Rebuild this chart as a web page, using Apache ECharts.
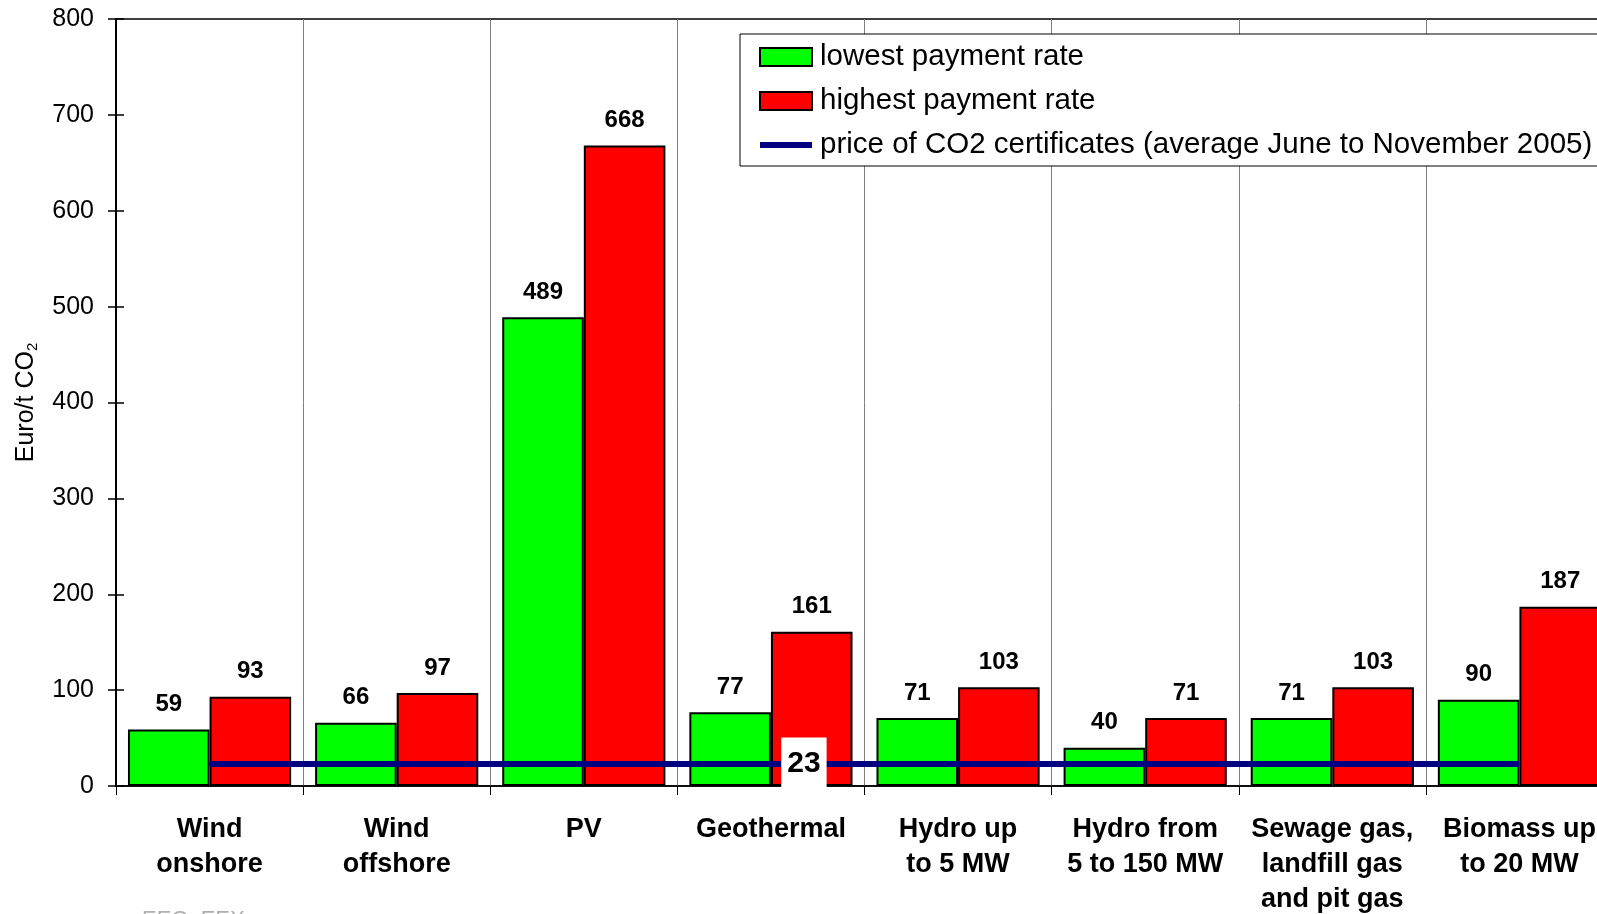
<!DOCTYPE html>
<html>
<head>
<meta charset="utf-8">
<script src="https://cdn.jsdelivr.net/npm/echarts@6/dist/echarts.min.js"></script>
<style>
  html, body { margin: 0; padding: 0; background: #fff; }
  #chart { width: 1597px; height: 914px; }
</style>
</head>
<body>
<div id="chart"></div>
<script>
// categories and values
const categories = [
  'Wind\nonshore', 'Wind\noffshore', 'PV', 'Geothermal',
  'Hydro up\nto 5 MW', 'Hydro from\n5 to 150 MW',
  'Sewage gas,\nlandfill gas\nand pit gas', 'Biomass up\nto 20 MW'
];
const lowestRate = [59, 66, 489, 77, 71, 40, 71, 90];
const highestRate = [93, 97, 668, 161, 103, 71, 103, 187];
const co2Price = [23, 23, 23, 23, 23, 23, 23, 23];
const co2LabelIndex = 3; // the "23" box sits on Geothermal
const yTicks = { min: 0, max: 800, interval: 100 };

const FONT = 'Liberation Sans, Arial, sans-serif';

const chart = echarts.init(document.getElementById('chart'));

const barLabel = {
  show: true,
  position: 'top',
  distance: 13,
  color: '#000',
  fontFamily: FONT,
  fontWeight: 'bold',
  fontSize: 24
};

const option = {
  animation: false,
  backgroundColor: '#fff',
  textStyle: { fontFamily: FONT },
  title: {
    text: 'EEG, EEX',
    left: 137,
    top: 904,
    textStyle: { color: '#b0b0b0', fontSize: 22, fontWeight: 'normal', fontFamily: FONT }
  },
  grid: {
    left: 116,
    top: 19,
    bottom: 128,
    right: -16,
    show: true,
    borderColor: '#000',
    borderWidth: 1.5,
    containLabel: false,
    outerBoundsMode: 'none'
  },
  legend: {
    orient: 'vertical',
    left: 740,
    top: 34,
    padding: [8, 30, 6, 19],
    itemWidth: 52,
    itemHeight: 18,
    itemGap: 14,
    backgroundColor: '#fff',
    borderColor: '#000',
    borderWidth: 1,
    borderRadius: 0,
    textStyle: { color: '#000', fontSize: 29.5, fontFamily: FONT, padding: [0, 0, 0, 3] },
    data: [
      { name: 'lowest payment rate', icon: 'rect' },
      { name: 'highest payment rate', icon: 'rect' },
      { name: 'price of CO2 certificates (average June to November 2005)', icon: 'path://M0,0H52V6H0Z' }
    ]
  },
  xAxis: {
    type: 'category',
    data: categories,
    boundaryGap: true,
    axisLine: { show: true, lineStyle: { color: '#000', width: 1.5 } },
    axisTick: { show: true, length: 9, interval: 0, lineStyle: { color: '#000', width: 1 } },
    splitLine: { show: true, interval: 0, lineStyle: { color: '#808080', width: 1 } },
    axisLabel: {
      interval: 0,
      margin: 26,
      color: '#000',
      fontFamily: FONT,
      fontWeight: 'bold',
      fontSize: 27,
      lineHeight: 35,
      align: 'center'
    }
  },
  yAxis: [
    {
      type: 'value',
      min: yTicks.min,
      max: yTicks.max,
      interval: yTicks.interval,
      name: '{a|Euro/t CO}{b|2}',
      nameLocation: 'middle',
      nameGap: 76,
      nameRotate: 90,
      nameTextStyle: {
        rich: {
          a: { fontSize: 25, fontFamily: FONT, color: '#000', lineHeight: 28 },
          b: { fontSize: 15, fontFamily: FONT, color: '#000', verticalAlign: 'bottom', lineHeight: 21 }
        }
      },
      axisLine: { show: true, lineStyle: { color: '#000', width: 2 } },
      axisTick: { show: true, length: 8, lineStyle: { color: '#000', width: 1.5 } },
      splitLine: { show: false },
      axisLabel: { margin: 22, color: '#000', fontSize: 25, fontFamily: FONT }
    },
    {
      // second axis only to draw the inner half of the cross ticks
      type: 'value',
      position: 'left',
      min: yTicks.min,
      max: yTicks.max,
      interval: yTicks.interval,
      axisLine: { show: false },
      axisTick: { show: true, inside: true, length: 8, lineStyle: { color: '#000', width: 1.5 } },
      axisLabel: { show: false },
      splitLine: { show: false }
    }
  ],
  series: [
    {
      name: 'lowest payment rate',
      type: 'bar',
      data: lowestRate,
      barGap: '0%',
      barCategoryGap: '12.8%',
      itemStyle: { color: '#00ff00', borderColor: '#000', borderWidth: 2 },
      label: barLabel
    },
    {
      name: 'highest payment rate',
      type: 'bar',
      data: highestRate,
      barGap: '0%',
      barCategoryGap: '12.8%',
      itemStyle: { color: '#ff0000', borderColor: '#000', borderWidth: 2 },
      label: barLabel
    },
    {
      name: 'price of CO2 certificates (average June to November 2005)',
      type: 'line',
      z: 5,
      symbol: 'circle',
      symbolSize: 1,
      itemStyle: { color: '#000080' },
      lineStyle: { color: '#000080', width: 6 },
      data: co2Price.map((v, i) => i === co2LabelIndex ? {
        value: v,
        label: {
          show: true,
          position: 'inside',
          offset: [33, 0],
          formatter: '{c}',
          color: '#000',
          fontFamily: FONT,
          fontWeight: 'bold',
          fontSize: 30,
          backgroundColor: '#fff',
          padding: [12, 6, 11, 6]
        }
      } : v)
    }
  ]
};

chart.setOption(option);
</script>
</body>
</html>
